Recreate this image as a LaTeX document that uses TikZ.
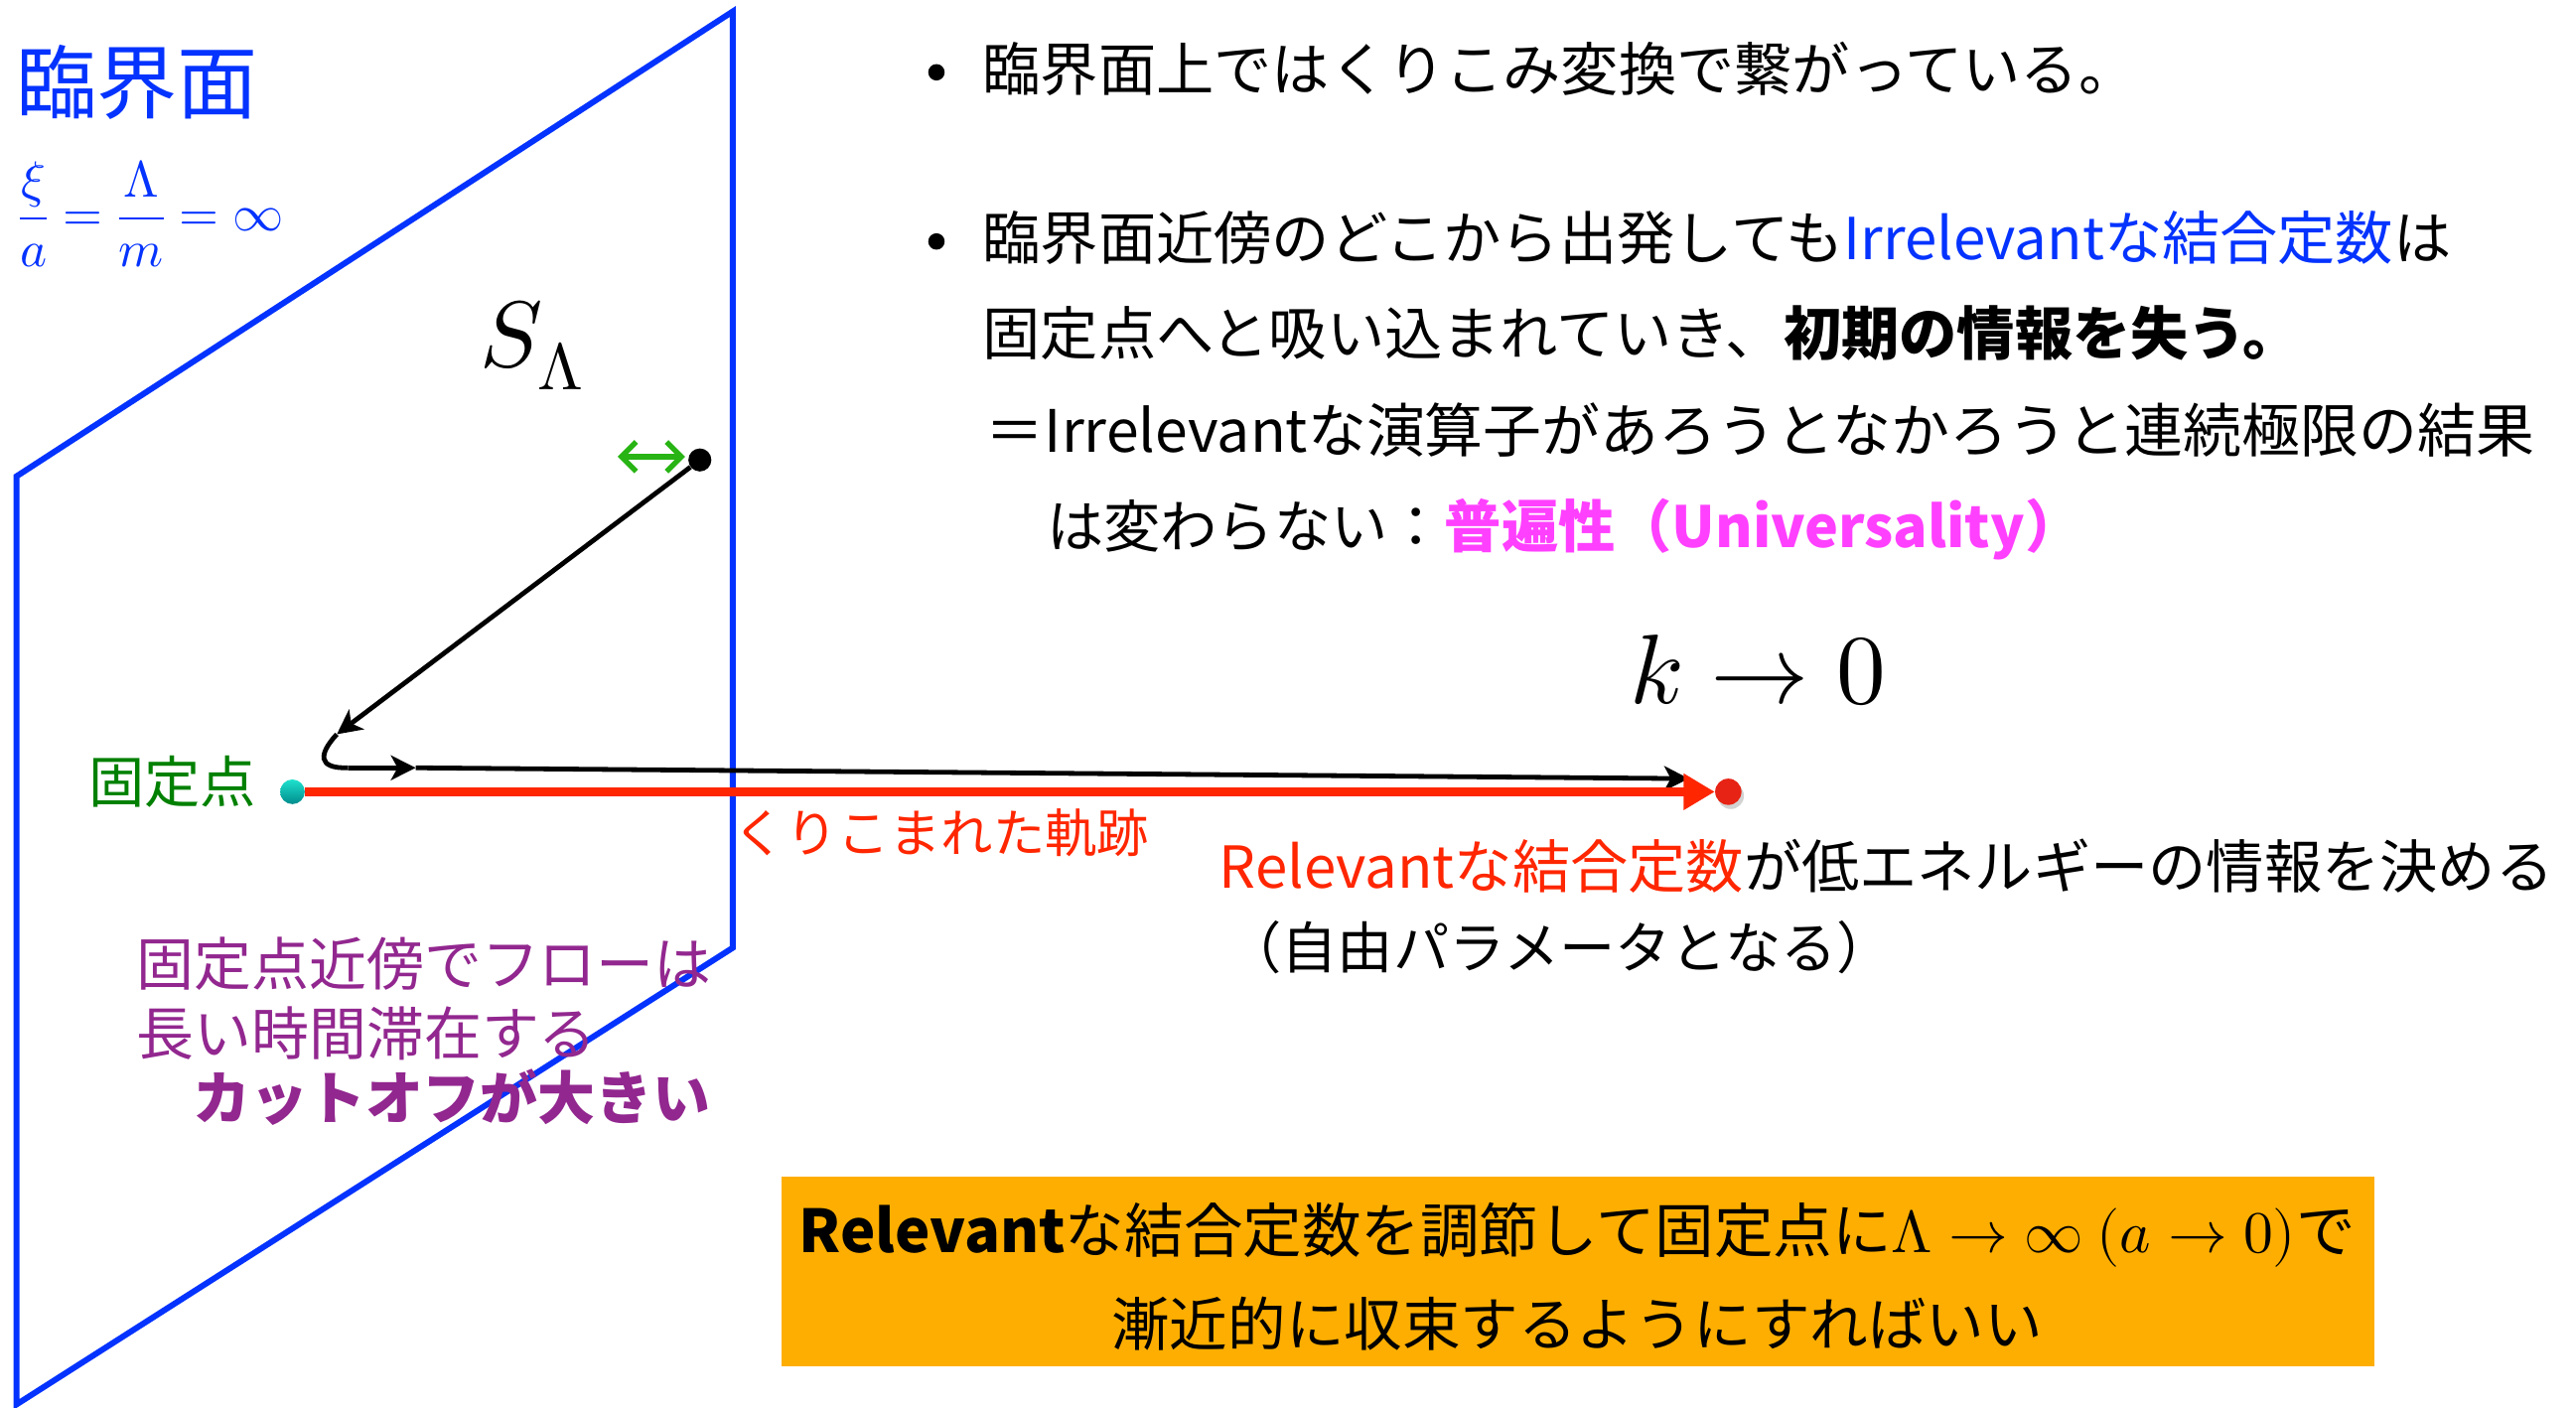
\documentclass[tikz,border=0pt]{standalone}
\usepackage{fontspec}
\usepackage{unicode-math}
\setmainfont{Noto Sans CJK JP}
\setmathfont{Latin Modern Math}
\usetikzlibrary{arrows.meta}
\definecolor{planeblue}{RGB}{4,51,255}
\definecolor{fpgreen}{RGB}{0,128,0}
\definecolor{arrgreen}{RGB}{40,180,20}
\definecolor{trred}{RGB}{255,38,0}
\definecolor{dotred}{RGB}{230,35,20}
\definecolor{hwpurple}{RGB}{146,39,143}
\definecolor{unimag}{RGB}{255,64,255}
\definecolor{boxorange}{RGB}{254,174,0}
\definecolor{cyanlight}{RGB}{30,225,205}
\definecolor{cyandark}{RGB}{0,140,140}
\newcommand\fs[1]{\fontsize{#1}{#1}\selectfont}
\tikzset{
  every node/.style={inner sep=0pt},
  plane/.style={draw=planeblue, line width=3.6pt, line join=miter},
  flow/.style={draw=black, line width=2.9pt},
  flowtip/.style={-{Stealth[length=15pt,width=15pt,inset=4pt]}},
  txt/.style={font=\fs{35.2}},
  hand/.style={font=\fs{35}, text=hwpurple},
}
\begin{document}
\begin{tikzpicture}[x=1pt,y=-1pt]
\useasboundingbox (0,0) rectangle (1568,857);
\fill[white] (0,0) rectangle (1568,857);
% critical surface
\coordinate (pTL) at (10,290);
\coordinate (pTR) at (446,7);
\coordinate (pBR) at (446,577);
\coordinate (pBL) at (10,855);
\draw[plane] (pTL) -- (pTR) -- (pBR) -- (pBL) -- cycle;
\node[anchor=west, text=planeblue, font=\fs{49}] (critlabel) at (10,50) {臨界面};
\node[text=planeblue, font=\fs{31}] (criteq) at (92,130) {$\displaystyle\frac{\xi}{a}=\frac{\Lambda}{m}=\infty$};
\node[font=\fs{57}] (SL) at (324,210) {$S_\Lambda$};
% flow
\node[circle, fill=black, minimum size=14pt] (start) at (426,280) {};
\coordinate (gL) at (376,278);
\coordinate (gR) at (417,278);
\draw[arrgreen, line width=3.2pt, {Straight Barb[length=9pt,width=18pt]}-{Straight Barb[length=9pt,width=18pt]}] (gL) -- (gR);
\coordinate (bend) at (205,447);
\coordinate (turn) at (212,467.4);
\coordinate (mid) at (253,467.4);
\coordinate (flowend) at (1028,474);
\draw[flow, flowtip] (start) -- (bend);
\draw[flow] (bend) .. controls (194,459) and (193,468) .. (turn);
\draw[flow, flowtip] (turn) -- (mid);
\draw[flow, flowtip] (mid) -- (flowend);
% fixed point and trajectory
\node[circle, minimum size=15pt, top color=cyanlight, bottom color=cyandark] (fp) at (178,482) {};
\node[circle, fill=gray!35, minimum size=16pt] (rshadow) at (1053.5,484.5) {};
\node[circle, fill=dotred, minimum size=16pt] (rdot) at (1052,482) {};
\draw[trred, line width=5pt, -{Triangle[length=19pt,width=21pt]}] (fp.east) -- (rdot.west);
\node[anchor=east, text=fpgreen, font=\fs{34}] (fplabel) at (156,476) {固定点};
\node[text=trred, font=\fs{31.6}] (trlabel) at (573,507) {くりこまれた軌跡};
\node[hand, anchor=west] (hw1) at (83,587) {固定点近傍でフローは};
\node[hand, anchor=west] (hw2) at (83,629) {長い時間滞在する};
\node[hand, font=\fs{35}\bfseries] (cutoff) at (275,668) {カットオフが大きい};
% bullets
\node[circle, fill=black, minimum size=10pt] (bul1) at (570,44) {};
\node[circle, fill=black, minimum size=10pt] (bul2) at (570,147) {};
\node[txt, anchor=west] (l1) at (598,42) {臨界面上ではくりこみ変換で繋がっている。};
\node[txt, anchor=west] (l2) at (598,145) {臨界面近傍のどこから出発しても\textcolor{planeblue}{Irrelevantな結合定数}は};
\node[txt, anchor=west] (l3) at (598,203) {固定点へと吸い込まれていき、\textbf{初期の情報を失う。}};
\node[anchor=west, font=\fs{35.6}] (l4) at (600,262) {＝Irrelevantな演算子があろうとなかろうと連続極限の結果};
\node[anchor=west, font=\fs{34.6}] (l5) at (637,322) {は変わらない：\textcolor{unimag}{\bfseries 普遍性（Universality）}};
% k -> 0
\node[font=\fs{60}] (klim) at (1070,408) {$k\to0$};
\node[anchor=west, font=\fs{35.2}] (rel1) at (742,527) {\textcolor{trred}{Relevantな結合定数}が低エネルギーの情報を決める};
\node[anchor=west, font=\fs{34}] (rel2) at (746,577) {（自由パラメータとなる）};
% conclusion box
\node[fill=boxorange, minimum width=969pt, minimum height=116pt] (box) at (960.5,774) {};
\node[font=\fs{36}] (box1) at (960,752) {{\bfseries Relevant}な結合定数を調節して固定点に$\Lambda\to\infty\ (a\to0)$で};
\node[font=\fs{35.4}] (box2) at (960,806) {漸近的に収束するようにすればいい};
\end{tikzpicture}
\end{document}
